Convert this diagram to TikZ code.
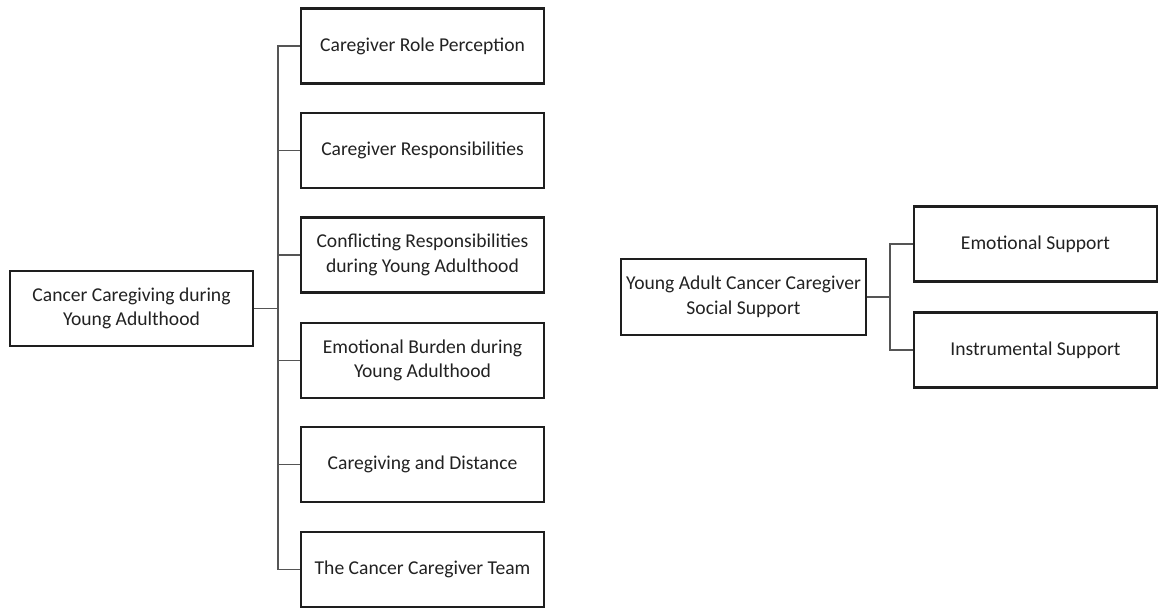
\documentclass[tikz,border=0pt]{standalone}
\usepackage{fontspec}
\setmainfont{Carlito}
\definecolor{boxline}{HTML}{1E1E1E}
\definecolor{linkline}{HTML}{555555}
\definecolor{txt}{HTML}{222222}
\begin{document}
\begin{tikzpicture}[x=1pt,y=1pt,
  box/.style={draw=boxline, line width=2.6pt, fill=white, minimum width=243pt, minimum height=75pt,
    inner sep=0pt, align=center, text=txt, font=\fontsize{19.6}{24.5}\selectfont},
  link/.style={draw=linkline, line width=1.4pt}]
\useasboundingbox (0,0) rectangle (1158,-608);
% left tree
\node[box] (r1) at (131.5,-308.5) {Cancer Caregiving during\\Young Adulthood};
\node[box] (a1) at (422.5,-46) {Caregiver Role Perception};
\node[box] (a2) at (422.5,-150.5) {Caregiver Responsibilities};
\node[box] (a3) at (422.5,-255) {Conflicting Responsibilities\\during Young Adulthood};
\node[box] (a4) at (422.5,-360.5) {Emotional Burden during\\Young Adulthood};
\node[box] (a5) at (422.5,-464.5) {Caregiving and Distance};
\node[box] (a6) at (422.5,-569.5) {The Cancer Caregiver Team};
\coordinate (t1) at (278,-308.5);
\foreach \c in {a1,a2,a3,a4,a5,a6}{
  \draw[link] (r1.east) -- (t1) |- (\c.west);
}
% right tree
\node[box, minimum width=245pt, minimum height=76pt] (r2) at (743.5,-297) {Young Adult Cancer Caregiver\\Social Support};
\node[box] (b1) at (1035.5,-244) {Emotional Support};
\node[box] (b2) at (1035.5,-350) {Instrumental Support};
\coordinate (t2) at (890,-297);
\foreach \c in {b1,b2}{
  \draw[link] (r2.east) -- (t2) |- (\c.west);
}
\end{tikzpicture}
\end{document}
